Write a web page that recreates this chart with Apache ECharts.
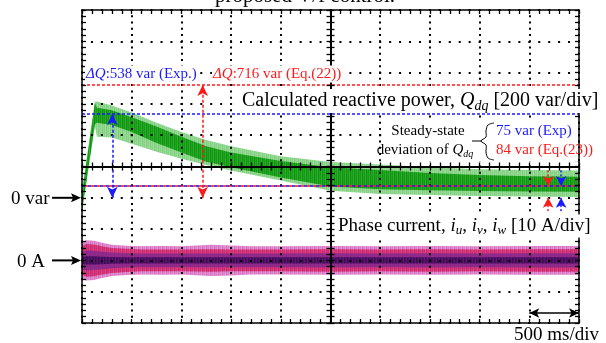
<!DOCTYPE html>
<html><head><meta charset="utf-8">
<script src="https://cdn.jsdelivr.net/npm/echarts@6/dist/echarts.min.js"></script>
<style>html,body{margin:0;padding:0;background:#fff}#c{width:606px;height:343px}</style>
</head><body><div id="c"></div>
<script>
// ---------- data ----------
// time in ms (500 ms/div), Q in var (200 var/div), current in A (10 A/div)
const timeRange = [0, 5000];
const timeStep = 500;
const qRange = [-800, 1200];
const qStep = 200;
const iRange = [-20, 80];
const iStep = 10;

// calculated reactive power envelope
const qTime    = [0, 130, 150, 300, 500, 750, 1000, 1250, 1500, 2000, 2500, 3000, 3500, 4000, 4500, 5000];
const qLightHi = [40, 615, 615, 590, 545, 480, 420, 370, 330, 265, 228, 212, 195, 182, 178, 175];
const qDarkHi  = [30, 605, 575, 560, 515, 455, 390, 330, 290, 235, 195, 178, 158, 145, 138, 135];
const qDarkLo  = [-80, 470, 480, 465, 420, 350, 290, 230, 195, 130, 72, 55, 48, 44, 40, 38];
const qLightLo = [-90, 460, 390, 385, 345, 295, 250, 210, 175, 110, 45, 25, 18, 12, 8, 5];

// phase current envelopes (amplitudes, A)
const cTime  = [0, 40, 120, 200, 300, 450, 600, 800, 1000, 1300, 1500, 1700, 2000, 2500, 3000, 3500, 4000, 4500, 5000];
const cOuter = [5.6, 6.4, 6.3, 5.6, 5.0, 4.7, 4.5, 4.6, 4.5, 5.0, 4.8, 4.5, 4.5, 4.6, 4.5, 4.6, 4.5, 4.6, 4.6];
const cMain  = [4.5, 5.2, 5.1, 4.5, 4.0, 3.7, 3.5, 3.5, 3.5, 3.6, 3.5, 3.5, 3.5, 3.6, 3.5, 3.6, 3.5, 3.6, 3.6];
const cInner = [2.8, 3.2, 3.1, 2.8, 2.5, 2.3, 2.2, 2.2, 2.2, 2.2, 2.2, 2.2, 2.2, 2.3, 2.2, 2.3, 2.2, 2.3, 2.3];
const cCore  = [1.2, 1.3, 1.3, 1.2, 1.1, 1.0, 1.0, 1.0, 1.0, 1.0, 1.0, 1.0, 1.0, 1.0, 1.0, 1.0, 1.0, 1.0, 1.0];

// annotation values
const dqExpLevel = 535;   // blue top line
const dqEqLevel = 720;    // red top line
const ssLevel = 75;       // steady-state line
const dqExpTime = 305, dqEqTime = 1214;
const ssRedTime = 4690, ssBlueTime = 4820;
const ssArrowTop = 175, ssArrowBottom = -85;
const scaleBar = [4500, 5000], scaleBarLevel = -736;

const titleText = 'proposed V/f control.';
// ---------- chart ----------
const FONT = '"Liberation Serif","Times New Roman",serif';
const BLUE = '#1a1aff', RED = '#ff1a1a', BLK = '#000';

function stripes(cols){
  const c = document.createElement('canvas'); c.width = cols.length; c.height = 2;
  const g = c.getContext('2d');
  cols.forEach((col,i)=>{ g.fillStyle = col; g.fillRect(i,0,1,2); });
  return {image:c, repeat:'repeat'};
}
function band(xs, lo, hi, fill, yIdx, z){
  return {type:'custom', xAxisIndex:0, yAxisIndex:yIdx, z:z, silent:true, animation:false, clip:true,
    data:[[xs[0], lo[0]]],
    renderItem:function(params, api){
      const pts = [];
      for (let i=0;i<xs.length;i++) pts.push(api.coord([xs[i], hi[i]]));
      for (let i=xs.length-1;i>=0;i--) pts.push(api.coord([xs[i], lo[i]]));
      return {type:'polygon', shape:{points:pts}, style:{fill:fill, stroke:null}};
    }};
}
const neg = a => a.map(v=>-v);
function ml(color, dash, width, symbols, size, pairs, yIdx){
  return {type:'line', data:[], xAxisIndex:0, yAxisIndex:yIdx||0, z:10, silent:true, animation:false,
    markLine:{silent:true, animation:false, symbol:symbols, symbolSize:size, label:{show:false},
      lineStyle:{color:color, type:dash, width:width}, emphasis:{disabled:true},
      data: pairs.map(p=>[{coord:[p[0],p[1]]},{coord:[p[2],p[3]]}])}};
}

const frameAxis = {
  axisLine:{show:true, onZero:false, lineStyle:{color:BLK, width:1.5}},
  axisTick:{show:true, inside:true, length:4, lineStyle:{color:BLK, width:1.3}},
  minorTick:{show:true, splitNumber:5, length:4, lineStyle:{color:BLK, width:1.3}},
  axisLabel:{show:false}, splitLine:{show:false}, z:5
};
function ax(extra){ return Object.assign({}, JSON.parse(JSON.stringify(frameAxis)), extra); }

const series = [
  band(qTime, qLightLo, qLightHi, stripes(['#86d386','#9fdd9f','#7ccd7c','#93d993']), 0, 2),
  band(qTime, qDarkLo, qDarkHi, stripes(['#169a16','#2bb02b','#128f12','#22a622']), 0, 3),
  band(cTime, neg(cOuter), cOuter, stripes(['#e27cc4','#d89ae0','#e86aa8','#cf8fe0']), 2, 2),
  band(cTime, neg(cMain), cMain, stripes(['#d42d6e','#e0408a','#c02a78','#d63a6c']), 2, 3),
  band(cTime, neg(cInner), cInner, stripes(['#8a2a90','#a02c7c','#7a2898','#962a84']), 2, 4),
  band(cTime, neg(cCore), cCore, stripes(['#4a0f5e','#5c1470','#3e0c54']), 2, 4),
  ml(RED, [3,2], 1.6, 'none', 0, [[timeRange[0], dqEqLevel, timeRange[1], dqEqLevel]]),
  ml(BLUE, [3,2], 1.6, 'none', 0, [[timeRange[0], dqExpLevel, timeRange[1], dqExpLevel]]),
  ml(BLUE, [3,3], 1.6, 'none', 0, [[timeRange[0], ssLevel, timeRange[1], ssLevel]]),
  ml(RED, [3,3], 1.6, 'none', 0, [[timeRange[0]+30, ssLevel, timeRange[1], ssLevel]]),
  ml(BLUE, [3,2], 1.5, ['arrow','arrow'], [8,11], [[dqExpTime, 0, dqExpTime, dqExpLevel]]),
  ml(RED, [3,2], 1.5, ['arrow','arrow'], [8,11], [[dqEqTime, 0, dqEqTime, dqEqLevel]]),
  ml(RED, [2,2], 1.5, ['none','arrow'], [8,10], [[ssRedTime, ssArrowTop, ssRedTime, ssLevel],[ssRedTime, ssArrowBottom, ssRedTime, 0]]),
  ml(BLUE, [2,2], 1.5, ['none','arrow'], [8,10], [[ssBlueTime, ssArrowTop, ssBlueTime, ssLevel],[ssBlueTime, ssArrowBottom, ssBlueTime, 0]]),
  ml(BLK, 'solid', 1.6, ['arrow','arrow'], [7,10], [[scaleBar[0], scaleBarLevel, scaleBar[1], scaleBarLevel]])
];

const chart = echarts.init(document.getElementById('c'), null, {renderer:'canvas'});
const option = {
  animation:false,
  backgroundColor:'#fff',
  grid:{left:82, right:27, top:10, bottom:20, containLabel:false, outerBoundsMode:'none'},
  xAxis:[
    ax({type:'value', position:'bottom', min:timeRange[0], max:timeRange[1], interval:timeStep,
        splitLine:{show:true, lineStyle:{color:BLK, width:2, type:[2,4.26], dashOffset:1}}}),
    ax({type:'value', position:'top', min:timeRange[0], max:timeRange[1], interval:timeStep}),
    ax({type:'value', position:'bottom', min:timeRange[0], max:timeRange[1], interval:timeStep,
        axisLine:{show:true, onZero:true, onZeroAxisIndex:3, lineStyle:{color:BLK, width:2}},
        axisTick:{show:true, inside:false, length:4, lineStyle:{color:BLK, width:1.3}}}),
    ax({type:'value', position:'bottom', min:timeRange[0], max:timeRange[1], interval:timeStep,
        axisLine:{show:true, onZero:true, onZeroAxisIndex:3, lineStyle:{color:BLK, width:2}},
        axisTick:{show:true, inside:true, length:4, lineStyle:{color:BLK, width:1.3}}}),
    {type:'value', min:-5, max:5, show:false}
  ],
  yAxis:[
    ax({type:'value', position:'left', min:qRange[0], max:qRange[1], interval:qStep,
        splitLine:{show:true, lineStyle:{color:BLK, width:2, type:[2,7.94], dashOffset:1}}}),
    ax({type:'value', position:'right', min:qRange[0], max:qRange[1], interval:qStep}),
    {type:'value', min:iRange[0], max:iRange[1], interval:iStep, show:false},
    {type:'value', min:-5, max:5, show:false},
    ax({type:'value', position:'left', min:qRange[0], max:qRange[1], interval:qStep,
        axisLine:{show:true, onZero:true, onZeroAxisIndex:4, lineStyle:{color:BLK, width:2}},
        axisTick:{show:true, inside:false, length:4, lineStyle:{color:BLK, width:1.3}}}),
    ax({type:'value', position:'left', min:qRange[0], max:qRange[1], interval:qStep,
        axisLine:{show:true, onZero:true, onZeroAxisIndex:4, lineStyle:{color:BLK, width:2}},
        axisTick:{show:true, inside:true, length:4, lineStyle:{color:BLK, width:1.3}}})
  ],
  series: series
};
chart.setOption(option);

const y0var = chart.convertToPixel({yAxisIndex:0}, 0);
const y0A = chart.convertToPixel({yAxisIndex:2}, 0);
const xLeft = chart.convertToPixel({xAxisIndex:0}, timeRange[0]);

function txt(x, y, text, size, color, opts){
  return {type:'text', z:100, silent:true,
    style:Object.assign({x:x, y:y, text:text, fill:color, fontFamily:FONT, fontSize:size,
      align:'left', verticalAlign:'middle'}, opts||{})};
}
function sideArrow(y){
  return {type:'group', z:100, silent:true, children:[
    {type:'line', z:100, shape:{x1:xLeft-30, y1:y, x2:xLeft-8, y2:y}, style:{stroke:BLK, lineWidth:2}},
    {type:'polygon', z:100, shape:{points:[[xLeft-1,y],[xLeft-11,y-4.5],[xLeft-9,y],[xLeft-11,y+4.5]]}, style:{fill:BLK}}
  ]};
}
function richQ(sz, col){
  return {
    i:{fontStyle:'italic', fontFamily:FONT, fontSize:sz, fill:col},
    s:{fontStyle:'italic', fontFamily:FONT, fontSize:Math.round(sz*0.68), fill:col, padding:[Math.round(sz*0.5),0,0,0]},
    n:{fontFamily:FONT, fontSize:sz, fill:col}
  };
}
chart.setOption({graphic:[
  txt(305, -4, titleText, 21, BLK, {align:'center'}),
  txt(85, 74, '{i|ΔQ}{n|:538 var (Exp.)}', 15, BLUE, {rich:richQ(15, BLUE), backgroundColor:'#fff', padding:[1,1]}),
  txt(212, 74, '{i|ΔQ}{n|:716 var (Eq.(22))}', 15, RED, {rich:richQ(15, RED), backgroundColor:'#fff', padding:[1,1]}),
  txt(240, 101, '{n|Calculated reactive power, }{i|Q}{s|dq}{n| [200 var/div]}', 20, BLK, {rich:richQ(20, BLK), backgroundColor:'#fff', padding:[0,2,0,2]}),
  {type:'rect', z:99, silent:true, shape:{x:388, y:121, width:190, height:40}, style:{fill:'#fff'}},
  txt(428, 131, 'Steady-state', 15, BLK, {align:'center'}),
  txt(425, 150, '{n|deviation of }{i|Q}{s|dq}', 15, BLK, {align:'center', rich:richQ(15, BLK)}),
  {type:'polyline', z:100, silent:true, shape:{smooth:0.35, points:[[494,123],[488,125],[486,131],[486,137],[481,141],[486,145],[486,152],[488,158],[494,160]]},
    style:{stroke:BLK, lineWidth:1, fill:null}},
  {type:'line', z:100, silent:true, shape:{x1:472, y1:141, x2:482, y2:141}, style:{stroke:BLK, lineWidth:1}},
  txt(496, 131, '75 var (Exp)', 15, BLUE),
  txt(496, 150, '84 var (Eq.(23))', 15, RED),
  txt(336, 226, '{n|Phase current, }{i|i}{s|u}{n|, }{i|i}{s|v}{n|, }{i|i}{s|w}{n| [10 A/div]}', 19, BLK, {rich:richQ(19, BLK), backgroundColor:'#fff', padding:[0,2,0,2]}),
  txt(11, y0var+1, '0 var', 19, BLK),
  sideArrow(y0var),
  txt(17, y0A+2, '0 A', 19, BLK),
  sideArrow(y0A),
  txt(514, 335, '500 ms/div', 19, BLK)
]});
</script></body></html>
